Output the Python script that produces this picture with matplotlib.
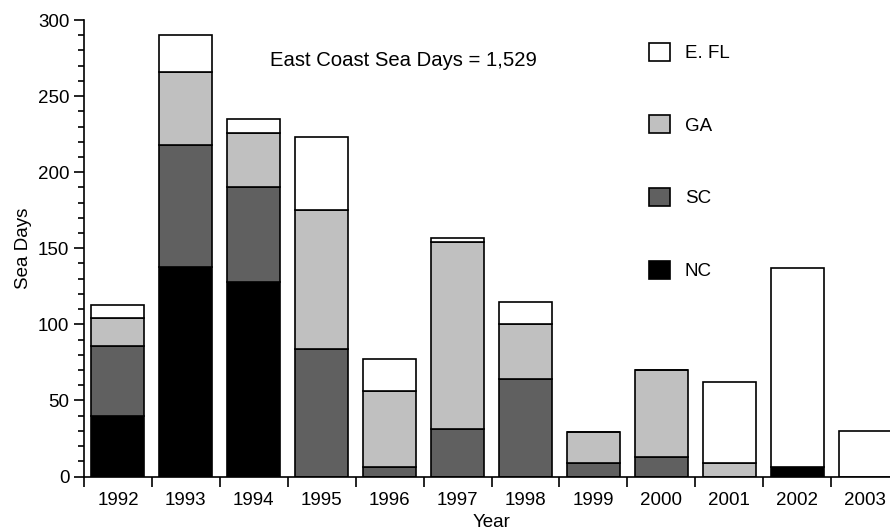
import matplotlib
matplotlib.use("Agg")
import matplotlib.pyplot as plt
import numpy as np

plt.rcParams['font.family'] = ['Liberation Sans', 'DejaVu Sans']

years = ['1992', '1993', '1994', '1995', '1996', '1997', '1998',
         '1999', '2000', '2001', '2002', '2003']
nc = [40, 138, 128, 0, 0, 0, 0, 0, 0, 0, 6, 0]
sc = [46, 80, 62, 84, 6, 31, 64, 9, 13, 0, 0, 0]
ga = [18, 48, 36, 91, 50, 123, 36, 20, 57, 9, 0, 0]
efl = [9, 24, 9, 48, 21, 3, 15, 0, 0, 53, 131, 30]

series = [('NC', nc, '#000000'), ('SC', sc, '#606060'),
          ('GA', ga, '#c0c0c0'), ('E. FL', efl, '#ffffff')]

fig = plt.figure(figsize=(8.9, 5.31), dpi=100)
ax = fig.add_axes([84 / 890, 54.5 / 531, 815 / 890, 456.5 / 531])

x = np.arange(len(years))
bottom = np.zeros(len(years))
handles = {}
for name, vals, col in series:
    vals = np.array(vals, dtype=float)
    bars = ax.bar(x, vals, 0.78, bottom=bottom, color=col,
                  edgecolor='black', linewidth=1.2, label=name)
    handles[name] = bars
    bottom += vals

ax.set_xlim(-0.5, len(years) - 0.5)
ax.set_ylim(0, 300)

# ticks between categories, labels at centres
ax.set_xticks(x - 0.5)
ax.set_xticklabels([])
ax.set_xticks(x, minor=True)
ax.set_xticklabels(years, minor=True)
ax.tick_params(axis='x', which='major', direction='out', length=7, width=1.2)
ax.tick_params(axis='x', which='minor', length=0, labelsize=13.5, pad=11)

ax.set_yticks(np.arange(0, 301, 50))
ax.set_yticks(np.arange(0, 301, 10), minor=True)
ax.tick_params(axis='y', which='major', direction='out', length=7, width=1.2,
               labelsize=13.5)
ax.tick_params(axis='y', which='minor', direction='out', length=4, width=1.2)

for s in ['top', 'right']:
    ax.spines[s].set_visible(False)
for s in ['left', 'bottom']:
    ax.spines[s].set_linewidth(1.2)

ax.set_xlabel('Year', fontsize=13.5, labelpad=4)
ax.set_ylabel('Sea Days', fontsize=13.5, labelpad=4)

ax.text(0.392, 0.912, 'East Coast Sea Days = 1,529', transform=ax.transAxes,
        fontsize=14.6, ha='center', va='center')

order = ['E. FL', 'GA', 'SC', 'NC']
ax.legend([handles[n] for n in order], order, loc='upper left',
          bbox_to_anchor=(0.673, 0.987), frameon=False, fontsize=13.5,
          handlelength=1.1, handleheight=1.1, labelspacing=2.84,
          handletextpad=0.8)

fig.savefig('out.png', dpi=100)
